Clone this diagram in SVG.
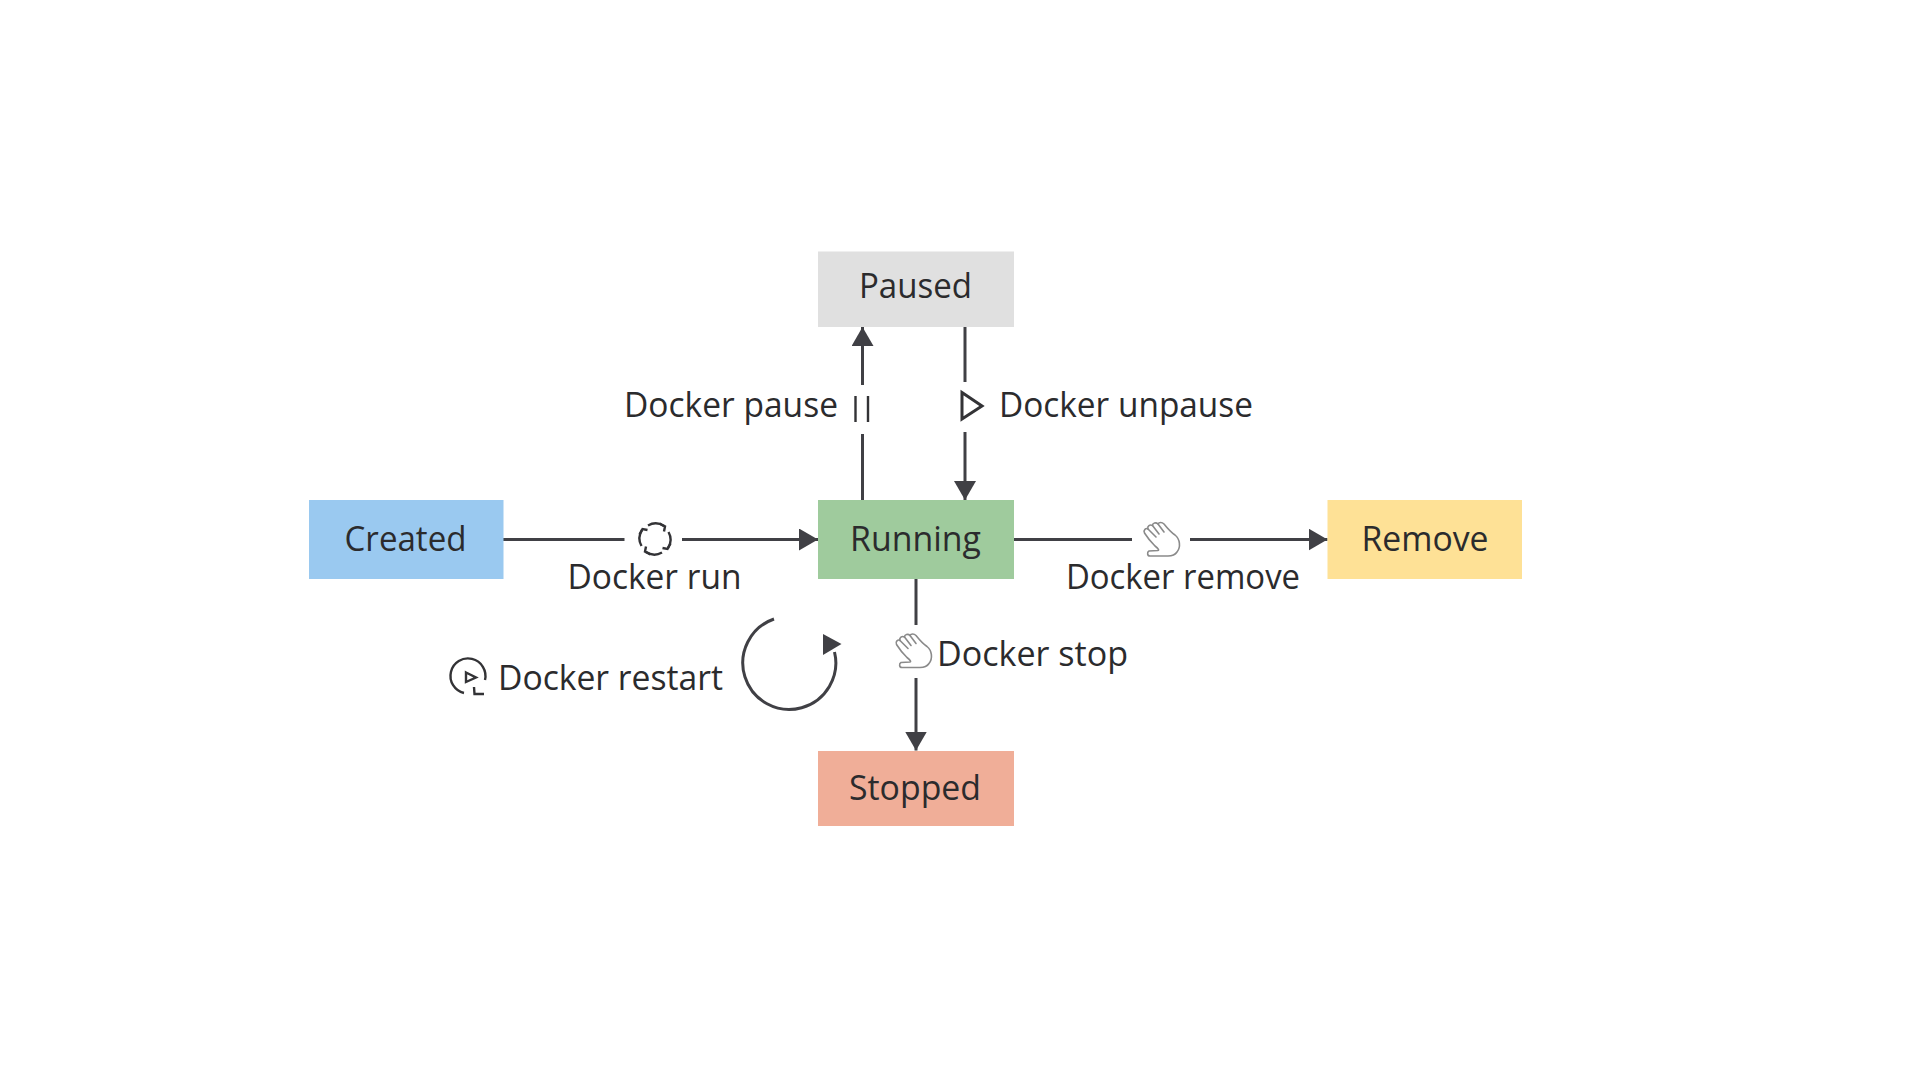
<svg xmlns="http://www.w3.org/2000/svg" width="1920" height="1080" viewBox="0 0 1920 1080">
<style>
text{font-family:"Open Sans","Noto Sans","Liberation Sans",sans-serif;font-size:35.5px;fill:#2b2b2d}
.c{fill:none;stroke:#404045;stroke-width:3}
.h{fill:#404045;stroke:none}
.i{fill:none;stroke:#333336;stroke-width:2.4}
.hand{fill:#fff;stroke:#8a8a8a;stroke-width:1.6;stroke-linejoin:round;stroke-linecap:round}
</style>
<defs>
<marker id="arrow" markerUnits="userSpaceOnUse" markerWidth="20" markerHeight="24" refX="19" refY="11" orient="auto">
<path class="h" d="M0,0L19,11L0,22Z"/>
</marker>
<g id="hand-icon">
<path class="hand" d="M12,24C8,20 4,15 1.5,11C0,8 3,5.500 5,7C4,4 7,2 9.500,3.500C9.500,1 13,0 15,2C16,0 19,0 21,2C25,7 29,11 32,13C37,17 38,25 34,30C32,33 29,34 25,34L7,34C4,34 4,30 6,29L15,28.500C16,28.500 16,27 12,24Z"/>
<path class="hand" d="M5,7L13,15M9.500,3.500L16,12M15,2L21,10"/>
</g>
<g id="run-quarter">
<path class="i" d="M-7,-13.500A15.500,15.500 0 0 1 9,-13"/>
<path class="i" d="M4.500,-15.500L10,-12.500L9,-7.500"/>
</g>
</defs>
<rect width="1920" height="1080" fill="#fff"/>
<g id="connectors">
<path class="c" d="M503,539.500H624.500"/>
<path class="c" d="M682,539.500H818" marker-end="url(#arrow)"/>
<path class="c" d="M862.500,500V434"/>
<path class="c" d="M862.500,385V327" marker-end="url(#arrow)"/>
<path class="c" d="M965,327V382"/>
<path class="c" d="M965,432V500" marker-end="url(#arrow)"/>
<path class="c" d="M1014,539.500H1132"/>
<path class="c" d="M1190,539.500H1327.500" marker-end="url(#arrow)"/>
<path class="c" d="M916,579V625"/>
<path class="c" d="M916,678V750.500" marker-end="url(#arrow)"/>
<path class="c" d="M774,619A46.500,46.500 0 1 0 834.500,652"/>
<path class="h" d="M823,634L841.500,644L823,655Z"/>
</g>
<g id="created"><rect x="309" y="500" width="194.500" height="79" fill="#9ac9f0"/><text x="344.500" y="551" textLength="122" lengthAdjust="spacingAndGlyphs">Created</text></g>
<g id="paused"><rect x="818" y="251.500" width="196" height="75.500" fill="#e0e0e0"/><text x="859" y="298" textLength="113" lengthAdjust="spacingAndGlyphs">Paused</text></g>
<g id="running"><rect x="818" y="500" width="196" height="79" fill="#9fcb9d"/><text x="850" y="551" textLength="131" lengthAdjust="spacingAndGlyphs">Running</text></g>
<g id="remove"><rect x="1327.500" y="500" width="194.500" height="79" fill="#fee196"/><text x="1361.500" y="551" textLength="127" lengthAdjust="spacingAndGlyphs">Remove</text></g>
<g id="stopped"><rect x="818" y="751" width="196" height="75" fill="#f0ae98"/><text x="849" y="800" textLength="132" lengthAdjust="spacingAndGlyphs">Stopped</text></g>
<g id="label-run">
<use href="#run-quarter" transform="translate(655,539)"/>
<use href="#run-quarter" transform="translate(655,539) rotate(90)"/>
<use href="#run-quarter" transform="translate(655,539) rotate(180)"/>
<use href="#run-quarter" transform="translate(655,539) rotate(270)"/>
<text x="567.500" y="588.500" textLength="174" lengthAdjust="spacingAndGlyphs">Docker run</text>
</g>
<g id="label-pause">
<text x="624" y="417" textLength="214" lengthAdjust="spacingAndGlyphs">Docker pause</text>
<path class="i" d="M855.500,396V422M868,396V422"/>
</g>
<g id="label-unpause">
<path d="M962,392.500L982,406L962,419Z" fill="none" stroke="#333336" stroke-width="3"/>
<text x="999" y="417" textLength="254" lengthAdjust="spacingAndGlyphs">Docker unpause</text>
</g>
<g id="label-remove">
<use href="#hand-icon" transform="translate(1143,522)"/>
<text x="1066" y="588.500" textLength="234" lengthAdjust="spacingAndGlyphs">Docker remove</text>
</g>
<g id="label-stop">
<use href="#hand-icon" transform="translate(895,633.500)"/>
<text x="937" y="666" textLength="191" lengthAdjust="spacingAndGlyphs">Docker stop</text>
</g>
<g id="label-restart">
<path class="i" d="M464,693A17.500,17.500 0 1 1 485,680"/>
<path class="i" d="M474,687L474.500,694H484"/>
<path class="i" d="M466,672.500L476,677.500L466,682Z"/>
<text x="498" y="689.500" textLength="225" lengthAdjust="spacingAndGlyphs">Docker restart</text>
</g>
</svg>
